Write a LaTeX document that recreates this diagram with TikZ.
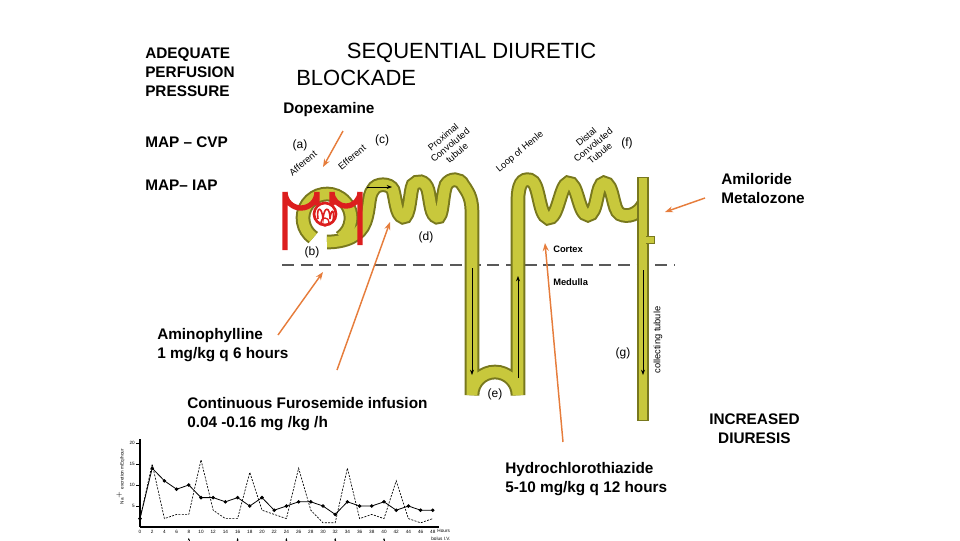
\documentclass[tikz,border=0pt]{standalone}
\usepackage{fontspec}
\setmainfont{Liberation Sans}
\usetikzlibrary{arrows.meta}
\definecolor{tube}{RGB}{200,200,60}
\definecolor{tubeo}{RGB}{120,120,30}
\definecolor{vred}{RGB}{220,30,30}
\definecolor{orarr}{RGB}{230,125,60}
\begin{document}
\begin{tikzpicture}[x=0.75pt,y=-0.75pt,
  lbl/.style={font=\bfseries\fontsize{11.5}{14}\selectfont,align=left,anchor=north west,inner sep=0},
  small/.style={font=\fontsize{9}{10}\selectfont,inner sep=0},
  rot/.style={font=\fontsize{7}{8}\selectfont,align=center,inner sep=0,rotate=40},
  ar/.style={orarr,line width=1.1pt,-{Stealth[length=6pt]}},
  tk/.style={font=\fontsize{3.5}{4}\selectfont,inner sep=1pt}]
\useasboundingbox (0,0) rectangle (960,540);
% texts
\node[lbl] (adeq) at (145,48) {ADEQUATE\\PERFUSION\\PRESSURE};
\node[font=\fontsize{16.5}{20}\selectfont,align=left,anchor=north west,inner sep=0] (seq) at (296,43) {\hspace*{2.3em}SEQUENTIAL DIURETIC\\BLOCKADE};
\node[lbl] (dopx) at (283,102) {Dopexamine};
\node[lbl] (map1) at (145,137) {MAP -- CVP};
\node[lbl] (map2) at (145,180) {MAP-- IAP};
\node[lbl] (amil) at (721,173) {Amiloride\\Metalozone};
\node[lbl] (amin) at (157,328) {Aminophylline\\1 mg/kg q 6 hours};
\node[lbl] (furo) at (187,397) {Continuous Furosemide infusion\\0.04 -0.16 mg /kg /h};
\node[lbl,align=center] (incr) at (709,414) {INCREASED\\DIURESIS};
\node[lbl] (hydro) at (505,462) {Hydrochlorothiazide\\5-10 mg/kg q 12 hours};
% dashed cortex line
\draw[gray!70!black,line width=2pt,dash pattern=on 9pt off 5pt] (282,265) -- (675,265);
% nephron tube
\def\capsule{(327,218) ++(125:24) arc[start angle=125,end angle=415,radius=24]}
\def\tubepath{(327,242) .. controls (345,242) and (360,236) .. (365,222) .. controls (370,208) and (368,196) .. (373,190) .. controls (376,183) and (390,183) .. (393,190) .. controls (396,200) and (396,215) .. (403,217) .. controls (410,219) and (410,190) .. (413,185) .. controls (417,180) and (425,180) .. (428,190) .. controls (431,205) and (431,215) .. (437,217) .. controls (443,219) and (442,195) .. (446,185) .. controls (450,178) and (460,178) .. (463,185) .. controls (470,195) and (472,200) .. (472,215) -- (472,395) arc[start angle=180,end angle=360,radius=23] -- (518,200) .. controls (518,185) and (522,178) .. (530,180) .. controls (540,182) and (538,215) .. (548,218) .. controls (558,220) and (560,185) .. (568,183) .. controls (578,181) and (578,215) .. (588,215) .. controls (598,215) and (596,183) .. (604,183) .. controls (614,183) and (612,210) .. (620,214) .. controls (628,218) and (638,214) .. (643,205)}
\draw[tubeo,line width=11pt] \capsule;
\draw[tubeo,line width=11pt] \tubepath;
\draw[tube,line width=8pt] \capsule;
\draw[tube,line width=8pt] \tubepath;
\draw[tubeo,line width=9pt] (643,177) -- (643,421);
\draw[tube,line width=6.5pt] (643,178) -- (643,420);
\draw[tubeo,line width=6pt] (646,240) -- (655,240);
\draw[tube,line width=4pt] (644,240) -- (654,240);
% red vessels
\draw[vred,line width=4pt] (285,250) -- (285,192) arc[start angle=180,end angle=0,radius=16] -- (317,205);
\draw[vred,line width=4pt] (332,205) -- (332,192) arc[start angle=180,end angle=0,radius=14] -- (360,245);
% flow lines in tube
\draw[black,line width=0.5pt,-{Stealth[length=4pt]}] (367,187) -- (392,187);
\draw[black,line width=0.5pt,-{Stealth[length=4pt]}] (472,268) -- (472,375);
\draw[black,line width=0.5pt,-{Stealth[length=4pt]}] (518,378) -- (518,276);
\draw[black,line width=0.5pt,-{Stealth[length=4pt]}] (643,270) -- (643,375);
% glomerulus
\draw[vred,line width=2pt] (325,214) circle[radius=11];
\draw[vred,line width=1.2pt] (318,219) .. controls (316,206) and (322,206) .. (323,219) .. controls (324,206) and (330,206) .. (330,219) .. controls (331,208) and (335,209) .. (333,221);
\draw[vred,line width=1pt] (325,222) circle[radius=4];
% nephron labels
\node[small] (la) at (300,145) {(a)};
\node[small] (lc) at (382,140) {(c)};
\node[small] (lf) at (627,143) {(f)};
\node[small] (lb) at (312,252) {(b)};
\node[small] (ld) at (426,237) {(d)};
\node[small] (le) at (495,394) {(e)};
\node[small] (lg) at (623,353) {(g)};
\node[rot] (aff) at (303,163) {Afferent};
\node[rot] (eff) at (352,157) {Efferent};
\node[rot] (pct) at (450,145) {Proximal\\Convoluted\\tubule};
\node[rot] (loh) at (520,152) {Loop of Henle};
\node[rot] (dct) at (593,145) {Distal\\Convoluted\\Tubule};
\node[small,font=\bfseries\fontsize{7}{8}\selectfont,anchor=west] (cort) at (553,249) {Cortex};
\node[small,font=\bfseries\fontsize{7}{8}\selectfont,anchor=west] (med) at (553,282) {Medulla};
\node[small,font=\fontsize{7}{8}\selectfont,rotate=90] (coll) at (658,340) {collecting tubule};
% orange arrows
\coordinate (d0) at (343,131); \coordinate (d1) at (323,167);
\draw[ar] (d0) -- (d1);
\coordinate (m0) at (705,198); \coordinate (m1) at (665,212);
\draw[ar] (m0) -- (m1);
\coordinate (p0) at (278,335); \coordinate (p1) at (323,272);
\draw[ar] (p0) -- (p1);
\coordinate (f0) at (337,370); \coordinate (f1) at (390,222);
\draw[ar] (f0) -- (f1);
\coordinate (h0) at (563,442); \coordinate (h1) at (545,243);
\draw[ar] (h0) -- (h1);
% graph
\begin{scope}[shift={(140,527)},x=6.1*0.75pt,y=4.2*0.75pt]
\draw[line width=0.8pt] (0,0) -- (0,21);
\draw[line width=0.8pt] (0,0) -- (49,0);
\foreach \v in {5,10,15,20} {\draw (0,\v) -- (-0.6,\v); \node[tk,anchor=east] at (-0.6,\v) {\v};}
\foreach \h in {2,4,...,48} {\node[tk,anchor=north] at (\h,-0.3) {\h};}
\node[tk,anchor=north] at (0,-0.3) {0};
\node[tk,anchor=west] at (48.5,-0.9) {Hours};
\node[tk,anchor=west] at (47.5,-2.9) {bolus I.V.};
\foreach \h in {8,16,24,32,40} {\draw[-{Stealth[length=2pt]},line width=0.4pt] (\h,-3.8) -- (\h,-2.6);}
\node[tk,rotate=90] at (-3.2,12) {Na$^+$ excretion mEq/hour};
\draw[line width=0.6pt] plot[mark=*,mark size=1pt] coordinates {(0,2)(2,14)(4,11)(6,9)(8,10)(10,7)(12,7)(14,6)(16,7)(18,5)(20,7)(22,4)(24,5)(26,6)(28,6)(30,5)(32,3)(34,6)(36,5)(38,5)(40,6)(42,4)(44,5)(46,4)(48,4)};
\draw[line width=0.5pt,dash pattern=on 1.5pt off 1pt] plot[mark=o,mark size=1pt,mark options={solid}] coordinates {(0,2)(2,15)(4,2)(6,3)(8,3)(10,16)(12,4)(14,2)(16,2)(18,13)(20,4)(22,3)(24,2)(26,14)(28,4)(30,1)(32,1)(34,14)(36,2)(38,3)(40,2)(42,11)(44,2)(46,1)(48,2)};
\end{scope}
\end{tikzpicture}
\end{document}
